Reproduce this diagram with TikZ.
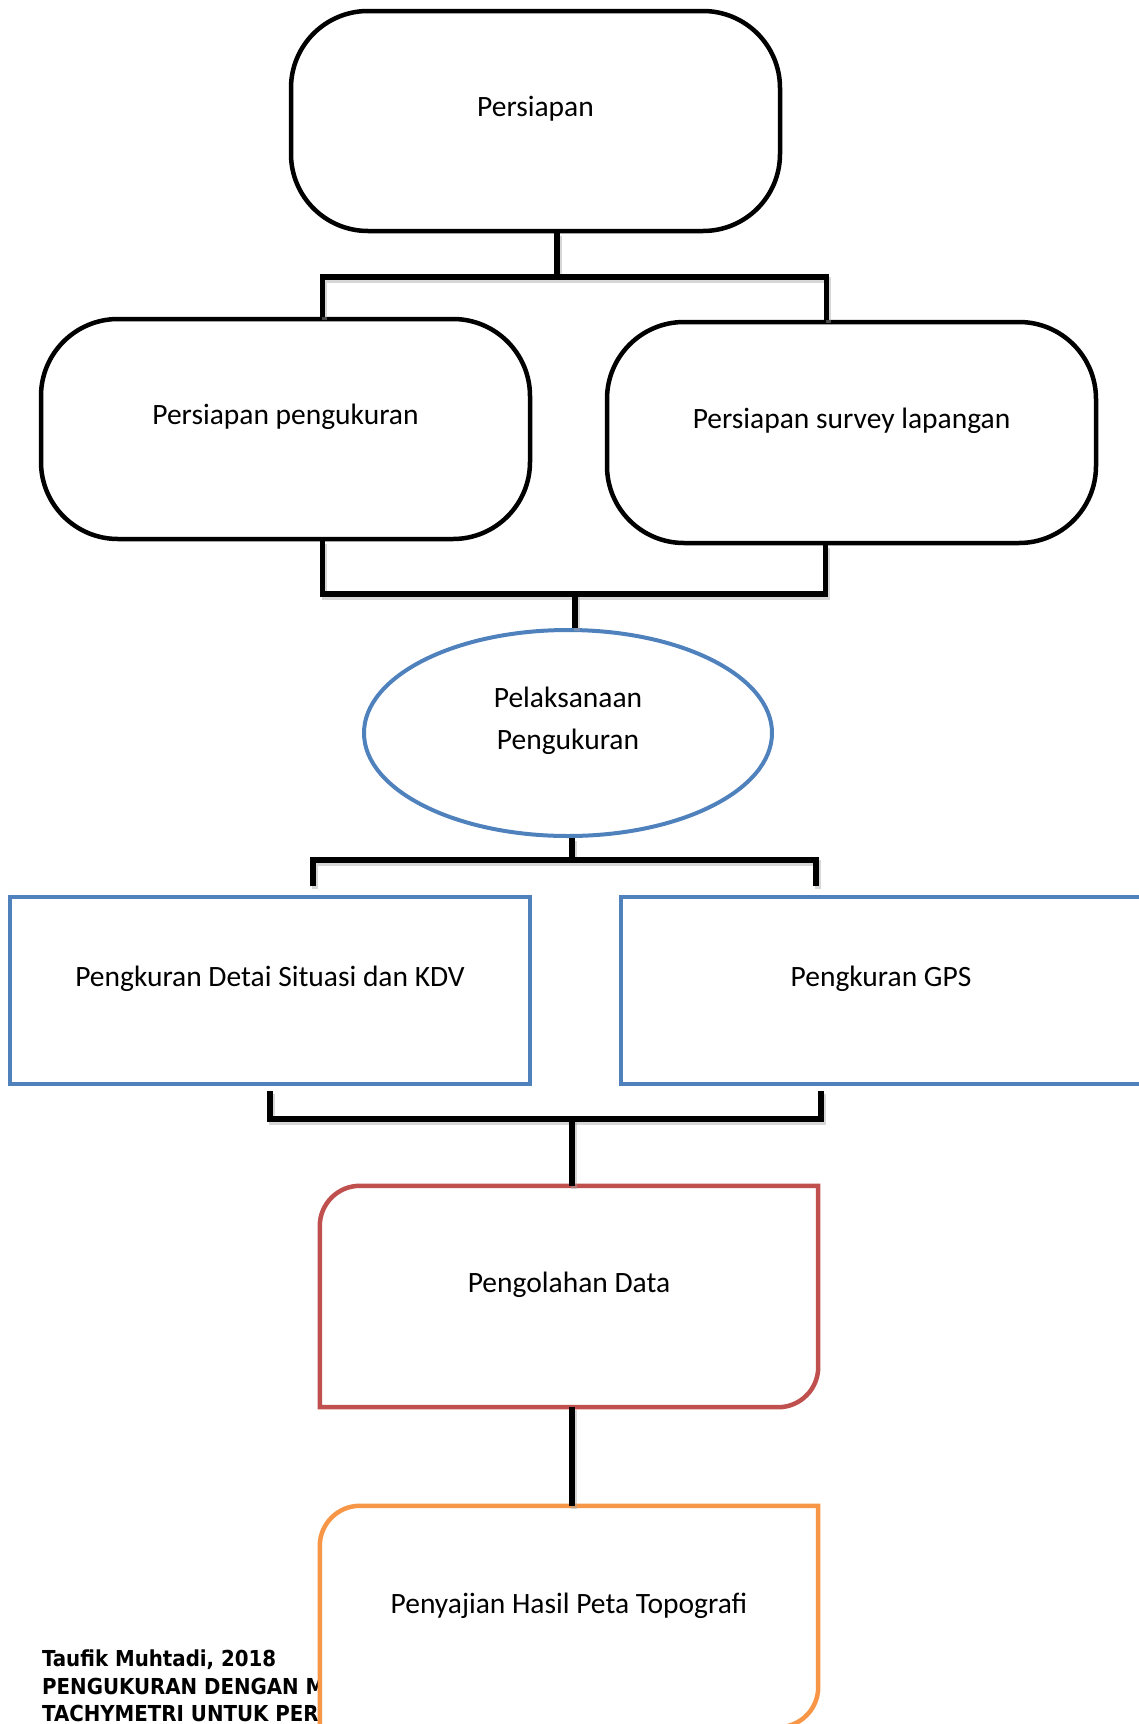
\documentclass[tikz,border=0pt]{standalone}
\usepackage{fontspec}
\setmainfont{Carlito}
\newfontfamily\footfont{DejaVu Sans Condensed}
\usetikzlibrary{shapes.geometric}
\definecolor{boxblue}{HTML}{4F81BD}
\definecolor{boxred}{HTML}{C0504D}
\definecolor{boxorange}{HTML}{F79646}

\begin{document}
\begin{tikzpicture}[x=1pt, y=-1pt,
        roundbox/.style={draw=black, line width=4.5pt, rounded corners=77pt, minimum width=489pt, minimum height=220pt, inner sep=0pt},
        ellbox/.style={ellipse, draw=boxblue, line width=4pt, minimum width=408pt, minimum height=206pt, inner sep=0pt},
        rectbox/.style={draw=boxblue, line width=4pt, minimum height=187pt, inner sep=0pt},
        diagbox/.style={minimum width=498pt, minimum height=221pt, inner sep=0pt},
        label/.style={font=\fontsize{29.5}{42}\selectfont, align=center},
        foot/.style={font=\footfont\bfseries\fontsize{22}{27}\selectfont, anchor=base west, inner sep=0pt},
        link/.style={draw=black, line width=5.5pt,
            preaction={draw=black!35, line width=5.5pt, opacity=0.45, transform canvas={shift={(2pt,-3pt)}}}}]
        \useasboundingbox (0,0) rectangle (1138,1724);

        % boxes
        \node[roundbox] (persiapan) at (535.5,121) {};
        \node[roundbox] (ukur) at (285.5,429) {};
        \node[roundbox, minimum height=221pt] (survey) at (851.5,432.5) {};
        \node[ellbox] (laksana) at (568,733) {};
        \node[rectbox, minimum width=520pt] (detail) at (270,990.5) {};
        \node[rectbox, minimum width=524pt] (gps) at (883,990.5) {};
        \node[diagbox] (olah) at (569,1296.5) {};
        \node[diagbox] (saji) at (569,1616.5) {};

        % footer, partly under the last box
        \node[foot] (author) at (42,1666) {Taufik Muhtadi, 2018};
        \node[foot] (title1) at (42,1694) {PENGUKURAN DENGAN M};
        \node[foot] (title2) at (42,1721) {TACHYMETRI UNTUK PER};

        \foreach \n/\c in {olah/boxred, saji/boxorange}
            \draw[draw=\c, line width=4.5pt, fill=white] (\n.south west) -- ([yshift=-40pt]\n.north west)
                .. controls ([yshift=-18pt]\n.north west) and ([xshift=18pt]\n.north west) .. ([xshift=40pt]\n.north west)
                -- (\n.north east) -- ([yshift=40pt]\n.south east)
                .. controls ([yshift=18pt]\n.south east) and ([xshift=-18pt]\n.south east) .. ([xshift=-40pt]\n.south east) -- cycle;

        % texts
        \node[label] (persiapantxt) at ([yshift=12pt]persiapan.center) {Persiapan};
        \node[label] (ukurtxt) at ([yshift=12pt]ukur.center) {Persiapan pengukuran};
        \node[label] (surveytxt) at ([yshift=12pt]survey.center) {Persiapan survey lapangan};
        \node[label] (laksanatxt) at ([yshift=12.5pt]laksana.center) {Pelaksanaan\\Pengukuran};
        \node[label] (detailtxt) at ([yshift=12pt]detail.center) {Pengkuran Detai Situasi dan KDV};
        \node[label] (gpstxt) at ([shift={(-2pt,12pt)}]gps.center) {Pengkuran GPS};
        \node[label] (olahtxt) at ([yshift=12pt]olah.center) {Pengolahan Data};
        \node[label] (sajitxt) at ([yshift=11pt]saji.center) {Penyajian Hasil Peta Topografi};

        % connectors
        \coordinate (bar1) at (557,277);
        \coordinate (bar2) at (575,594);
        \coordinate (bar3) at (572,860);
        \coordinate (bar4) at (572,1119);

        \draw[link] (persiapan.south -| bar1) -- (bar1);
        \draw[link] ([xshift=37pt]ukur.north) |- (bar1) -| ([xshift=-25pt]survey.north);
        \draw[link] ([xshift=37pt]ukur.south) |- (bar2) -| ([xshift=-26pt]survey.south);
        \draw[link] (bar2) -- (laksana.north -| bar2);
        \draw[link] (laksana.south -| bar3) -- (bar3);
        \draw[link] ([shift={(43pt,9pt)}]detail.north) |- (bar3) -| ([shift={(-67pt,9pt)}]gps.north);
        \draw[link] ([yshift=-5pt]detail.south) |- (bar4) -| ([shift={(-62pt,-5pt)}]gps.south);
        \draw[link] (bar4) -- (olah.north -| bar4);
        \draw[link] (olah.south -| bar4) -- (saji.north -| bar4);
    \end{tikzpicture}
\end{document}
